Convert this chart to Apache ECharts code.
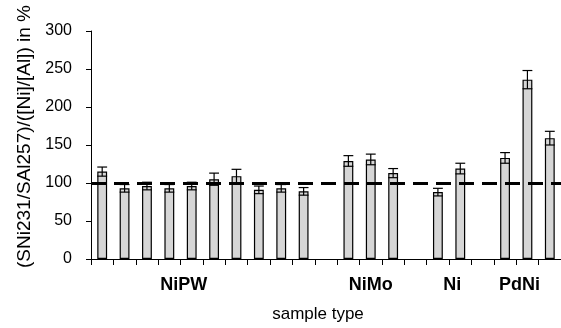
<!DOCTYPE html>
<html>
<head>
<meta charset="utf-8">
<script src="https://cdn.jsdelivr.net/npm/echarts@6/dist/echarts.min.js"></script>
<style>
  html, body { margin: 0; padding: 0; background: #fff; }
  #chart { width: 561px; height: 328px; }
</style>
</head>
<body>
<div id="chart"></div>
<script>
// one entry per sample slot on the x axis (empty slots separate the groups)
const samples = [
  "S1", "S2", "S3", "S4", "S5", "S6", "S7", "S8", "S9", "S10", "S11",
  "S12", "S13", "S14", "S15", "S16", "S17", "S18", "S19", "S20", "S21",
];
const ratio = [
  115, 93, 96, 93, 96, 105, 109, 91, 93, 89, null,
  129, 131, 113, null, 88, 119, null, 133, 236, 159,
];
const ratioError = [
  6, 5, 5, 5, 5, 8, 9, 5, 5, 5, null,
  7, 7, 6, null, 5, 7, null, 7, 12, 9,
];
const groupLabels = { 4: "NiPW", 12: "NiMo", 16: "Ni", 19: "PdNi" };
const yTicks = { min: 0, max: 300, interval: 50 };
const referenceLevel = 100;

const font = "Liberation Sans, Arial, sans-serif";

const errorData = ratio
  .map((value, index) => (value == null ? null : [index, value, ratioError[index]]))
  .filter((item) => item !== null);

const chart = echarts.init(document.getElementById("chart"), null, {
  renderer: "canvas",
});

chart.setOption({
  animation: false,
  backgroundColor: "#fff",
  grid: {
    left: 91,
    right: -5,
    top: 31,
    bottom: 64,
    containLabel: false,
  },
  xAxis: {
    type: "category",
    data: samples,
    boundaryGap: true,
    name: "sample type",
    nameLocation: "middle",
    nameGap: 47,
    nameTextStyle: {
      color: "#000",
      fontFamily: font,
      fontSize: 17,
      padding: [0, 16, 0, 0],
    },
    axisLine: { lineStyle: { color: "#000", width: 1 } },
    axisTick: { show: true, interval: 0, length: 6, lineStyle: { color: "#000" } },
    axisLabel: {
      interval: 0,
      margin: 17,
      formatter: (value, index) => {
        const label = groupLabels[index];
        if (!label) {
          return "";
        }
        return index === 12 ? `{c|${label}}` : `{l|${label}}`;
      },
      rich: {
        c: { fontFamily: font, fontSize: 18, fontWeight: "bold", color: "#000" },
        l: {
          fontFamily: font,
          fontSize: 18,
          fontWeight: "bold",
          color: "#000",
          padding: [0, 16, 0, 0],
        },
      },
    },
    splitLine: { show: false },
  },
  yAxis: {
    type: "value",
    min: yTicks.min,
    max: yTicks.max,
    interval: yTicks.interval,
    name: "(SNi231/SAl257)/([Ni]/[Al]) in %",
    nameLocation: "middle",
    nameGap: 57,
    nameTextStyle: {
      color: "#000",
      fontFamily: font,
      fontSize: 19,
      padding: [0, 0, 0, 17],
    },
    axisLine: { show: true, lineStyle: { color: "#000", width: 1 } },
    axisTick: { show: true, length: 5, lineStyle: { color: "#000" } },
    axisLabel: {
      color: "#000",
      fontFamily: font,
      fontSize: 16,
      margin: 19,
    },
    splitLine: { show: false },
  },
  series: [
    {
      type: "bar",
      data: ratio.map((value) => (value == null ? "-" : value)),
      barWidth: "44%",
      itemStyle: {
        color: "#d6d6d6",
        borderColor: "#000",
        borderWidth: 1.2,
      },
      z: 2,
    },
    {
      type: "custom",
      data: errorData,
      z: 3,
      renderItem: (params, api) => {
        const index = api.value(0);
        const value = api.value(1);
        const error = api.value(2);
        const high = api.coord([index, value + error]);
        const low = api.coord([index, value - error]);
        const half = api.size([1, 0])[0] * 0.22;
        const style = { stroke: "#000", lineWidth: 1.2 };
        return {
          type: "group",
          children: [
            { type: "line", shape: { x1: high[0], y1: high[1], x2: low[0], y2: low[1] }, style },
            { type: "line", shape: { x1: high[0] - half, y1: high[1], x2: high[0] + half, y2: high[1] }, style },
            { type: "line", shape: { x1: low[0] - half, y1: low[1], x2: low[0] + half, y2: low[1] }, style },
          ],
        };
      },
      markLine: {
        silent: true,
        symbol: "none",
        label: { show: false },
        lineStyle: { color: "#000", width: 3, type: [15, 8] },
        data: [{ yAxis: referenceLevel }],
        z: 4,
      },
    },
  ],
});
</script>
</body>
</html>
